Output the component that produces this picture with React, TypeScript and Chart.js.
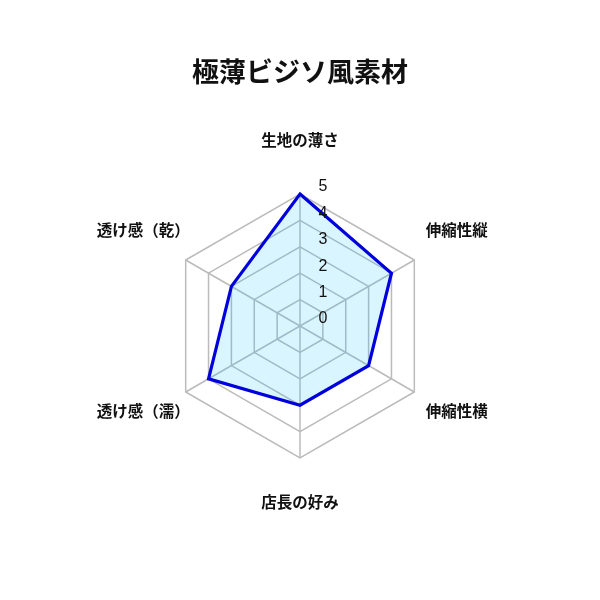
import { useEffect, useRef } from 'react';
import { Chart, registerables } from 'chart.js';

Chart.register(...registerables);

const chartTitle = '極薄ビジソ風素材';
const axisLabels = ['生地の薄さ', '伸縮性縦', '伸縮性横', '店長の好み', '透け感（濡）', '透け感（乾）'];
const scores = [5, 4, 3, 3, 4, 3];
const tickValues = [0, 1, 2, 3, 4, 5];

const FONT = '"Noto Sans CJK JP", "Noto Sans", sans-serif';

// draws the axis names and the tick numbers (offset to the right of the vertical axis)
const labelPlugin = {
  id: 'radarLabels',
  afterDraw(chart: any) {
    const scale = chart.scales.r;
    const ctx = chart.ctx;
    ctx.save();
    ctx.fillStyle = '#111';
    ctx.textAlign = 'center';
    ctx.textBaseline = 'middle';
    ctx.font = `600 15.5px ${FONT}`;
    axisLabels.forEach((label, i) => {
      const p = scale.getPointPosition(i, scale.drawingArea + 49);
      ctx.fillText(label, p.x, p.y - 5);
    });
    ctx.font = '16px "Liberation Sans", Arial, sans-serif';
    tickValues.forEach((v) => {
      const d = scale.getDistanceFromCenterForValue(v);
      ctx.fillText(String(v), scale.xCenter + 23, scale.yCenter - d - 7);
    });
    ctx.restore();
  },
};

export default function App() {
  const chartRef = useRef<HTMLCanvasElement>(null);
  const chartInstance = useRef<Chart | null>(null);

  useEffect(() => {
    if (!chartRef.current) return;
    if (chartInstance.current) chartInstance.current.destroy();

    const ctx = chartRef.current.getContext('2d');
    if (!ctx) return;
    chartInstance.current = new Chart(ctx, {
      type: 'radar',
      data: {
        labels: axisLabels,
        datasets: [
          {
            label: chartTitle,
            data: scores,
            borderColor: 'rgb(0, 0, 220)',
            backgroundColor: 'rgba(0, 191, 255, 0.15)',
            borderWidth: 3.2,
            pointRadius: 0,
            fill: true,
          },
        ],
      },
      options: {
        responsive: true,
        maintainAspectRatio: false,
        animation: false,
        layout: {
          padding: { top: 0, bottom: 133, left: 100, right: 100 },
        },
        plugins: {
          legend: { display: false },
          tooltip: { enabled: false },
          title: {
            display: true,
            text: chartTitle,
            color: '#111',
            font: { family: FONT, size: 27, weight: 'bold' },
            padding: { top: 47.5, bottom: 107 },
          },
        },
        scales: {
          r: {
            min: 0,
            max: 5,
            ticks: { display: false, stepSize: 1 },
            pointLabels: { display: false },
            grid: { color: '#bbbbbb', lineWidth: 1.5 },
            angleLines: { color: '#bbbbbb', lineWidth: 1.5 },
          },
        },
      },
      plugins: [labelPlugin],
    });

    return () => {
      if (chartInstance.current) {
        chartInstance.current.destroy();
        chartInstance.current = null;
      }
    };
  }, []);

  return (
    <div style={{ width: 584, height: 584 }}>
      <canvas ref={chartRef}></canvas>
    </div>
  );
}
